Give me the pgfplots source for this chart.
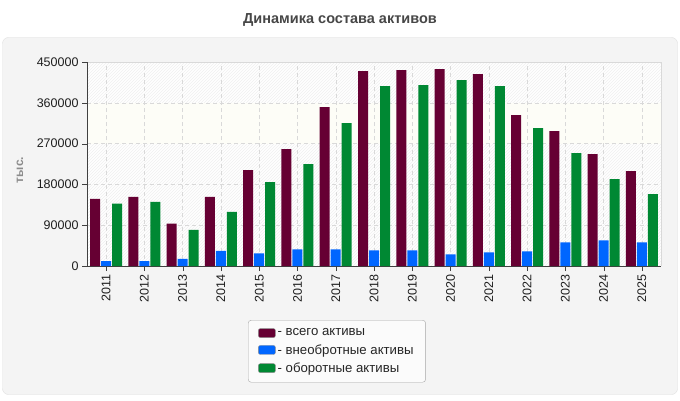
\documentclass[border=0pt]{standalone}
\usepackage{pgfplots}
\pgfplotsset{compat=1.18}
\usepackage{fontspec}
\setmainfont{Liberation Sans}
\usetikzlibrary{patterns}

\definecolor{tot}{HTML}{660033}
\definecolor{nca}{HTML}{0066FF}
\definecolor{ca}{HTML}{008833}
\definecolor{panel}{HTML}{F4F4F4}
\definecolor{band}{HTML}{FDFDF7}

\pgfplotsset{
  lg/.style={legend image code/.code={%
    \draw[##1, draw=black!45, rounded corners=2pt] (0pt,-4.5pt) rectangle (17pt,4.5pt);}},
}

\begin{document}
\begin{tikzpicture}[x=1pt,y=1pt]
\useasboundingbox (0,0) rectangle (680,400);
\fill[white] (0,0) rectangle (680,400);
\draw[black!12, fill=panel, rounded corners=6pt] (2.5,5.5) rectangle (677.5,362.5);
\node[font=\bfseries\fontsize{14.5}{16}\selectfont, text=black!72] at (340,380) {Динамика состава активов};
\node[rotate=90, font=\bfseries\fontsize{12}{14}\selectfont, text=black!45] at (20,230) {тыс.};

% plot area backdrop: faint hatching with a plain band from 270000 to 360000
\fill[white] (87,134) rectangle (661,338);
\fill[pattern=north east lines, pattern color=black!6] (87,134) rectangle (661,338);
\fill[band] (87,256.4) rectangle (661,297.2);
\draw[black!15] (87,338) -- (661,338) -- (661,134);

\begin{axis}[
  at={(87pt,134pt)}, anchor=south west,
  scale only axis, width=574pt, height=204pt,
  ybar=1pt, bar width=10pt,
  xmin=-0.5, xmax=14.5, ymin=0, ymax=450000,
  enlargelimits=false,
  xtick={0,...,14},
  xticklabels={2011,2012,2013,2014,2015,2016,2017,2018,2019,2020,2021,2022,2023,2024,2025},
  ytick={0,90000,180000,270000,360000,450000},
  scaled y ticks=false,
  yticklabel style={/pgf/number format/fixed, /pgf/number format/1000 sep={}},
  /pgf/number format/assume math mode=true,
  tick label style={font=\fontsize{12.5}{14}\selectfont, text=black!88},
  xticklabel style={rotate=90, anchor=east},
  axis x line*=bottom, axis y line*=left,
  axis line style={-, draw=black!75},
  tick align=outside, major tick length=5pt,
  tick style={black!75},
  xmajorgrids, ymajorgrids,
  grid style={black!15, dash pattern=on 4pt off 3pt},
  legend style={at={(0.2805,-0.265)}, anchor=north west,
    draw=black!35, fill=panel!40!white, rounded corners=3pt,
    font=\fontsize{13.2}{15}\selectfont, text=black!85,
    inner xsep=10pt, inner ysep=6.5pt, row sep=3pt},
  legend cell align=left,
]
% total assets
\addplot[fill=tot, draw=none, lg] coordinates {
  (0,148000) (1,152400) (2,93500) (3,152400) (4,211400) (5,257700) (6,350500)
  (7,430000) (8,432300) (9,434500) (10,423400) (11,332800) (12,297500)
  (13,246700) (14,209100)};
% non-current assets
\addplot[fill=nca, draw=none, lg] coordinates {
  (0,11000) (1,11000) (2,15500) (3,33100) (4,28000) (5,36800) (6,36800)
  (7,34600) (8,34600) (9,25800) (10,30200) (11,32400) (12,52300)
  (13,56700) (14,52300)};
% current assets
\addplot[fill=ca, draw=none, lg] coordinates {
  (0,137700) (1,141400) (2,79500) (3,119300) (4,184800) (5,224600) (6,315200)
  (7,396900) (8,399100) (9,410200) (10,396900) (11,304100) (12,248900)
  (13,191500) (14,158300)};
\legend{- всего активы, - внеобротные активы, - оборотные активы}
\end{axis}
\end{tikzpicture}
\end{document}
